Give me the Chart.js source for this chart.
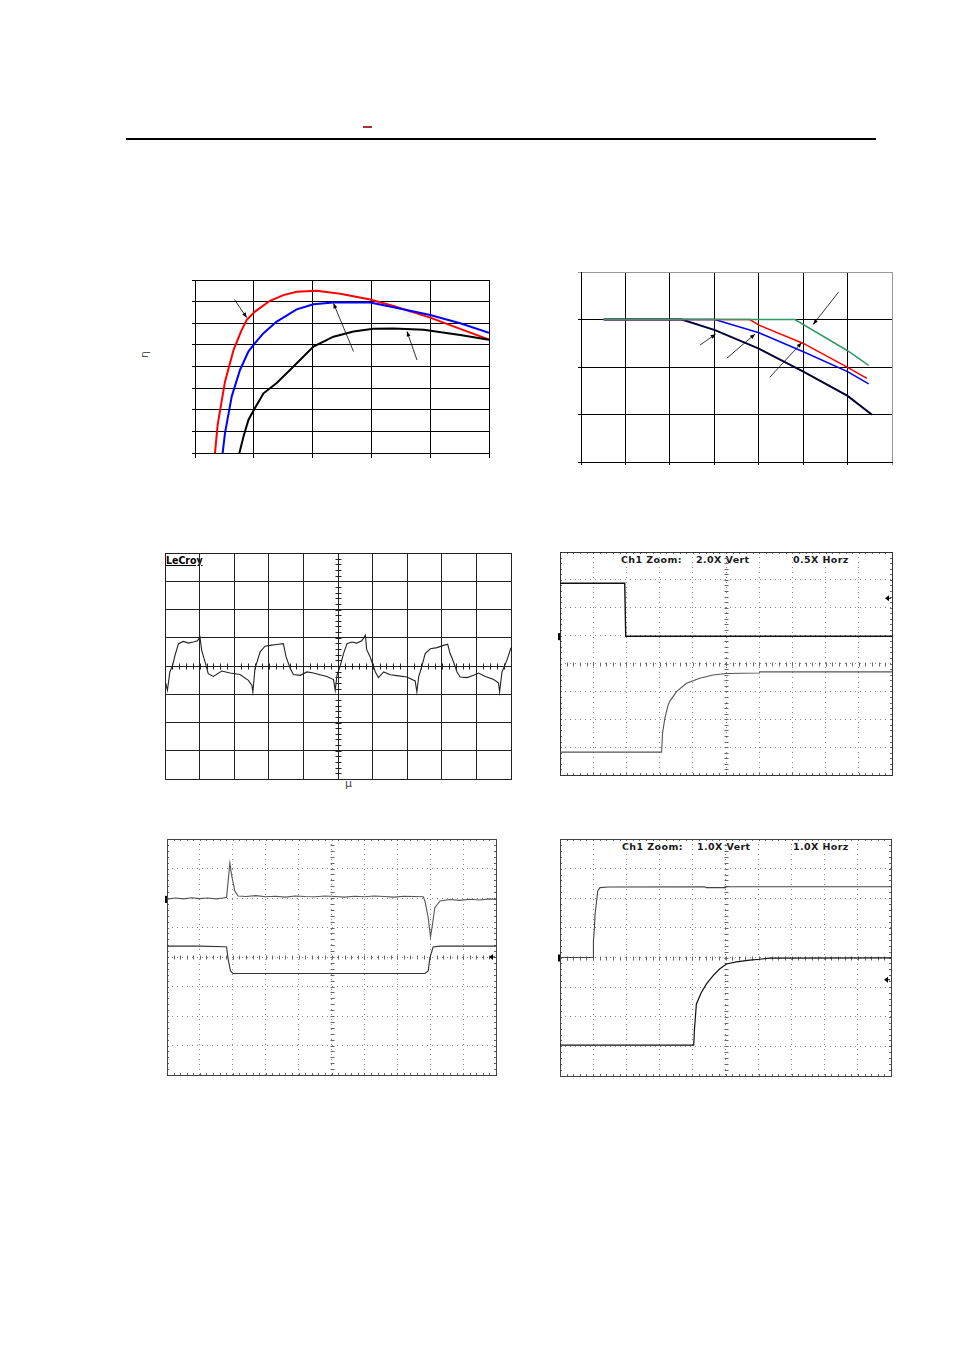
<!DOCTYPE html>
<html>
<head>
<meta charset="utf-8">
<script src="https://cdn.jsdelivr.net/npm/chart.js@4.4.1/dist/chart.umd.min.js"></script>
<style>
  body { margin: 0; background: #fff; }
  #page { position: relative; width: 954px; height: 1350px; background: #fff; overflow: hidden; font-family: "DejaVu Sans", sans-serif; }
  canvas { position: absolute; }
  .txt { position: absolute; white-space: nowrap; color: #222; }
  .scope { font-size: 9.5px; font-weight: bold; letter-spacing: 0.4px; color: #1a1a1a; }
</style>
</head>
<body>
<div id="page">
  <div style="position:absolute;left:126px;top:138px;width:750px;height:2px;background:#000"></div>
  <div style="position:absolute;left:363px;top:126px;width:9px;height:2px;background:#b03030"></div>

  <div class="txt" style="left:141px;top:348px;font-size:11px;color:#555;transform:rotate(-90deg)">η</div>
  <div class="txt" style="left:345px;top:777px;font-size:11px;color:#444">μ</div>
  <div class="txt" style="left:166px;top:554px;font-size:10.5px;font-weight:bold;text-decoration:underline;font-family:'Liberation Sans Narrow','DejaVu Sans Condensed',sans-serif;color:#000">LeCroy</div>

  <div class="txt scope" style="left:621px;top:554px">Ch1 Zoom:</div>
  <div class="txt scope" style="left:696px;top:554px">2.0X Vert</div>
  <div class="txt scope" style="left:793px;top:554px">0.5X Horz</div>

  <div class="txt scope" style="left:622px;top:841px">Ch1 Zoom:</div>
  <div class="txt scope" style="left:697px;top:841px">1.0X Vert</div>
  <div class="txt scope" style="left:793px;top:841px">1.0X Horz</div>

  <canvas id="c1"></canvas>
  <canvas id="c2"></canvas>
  <canvas id="c3"></canvas>
  <canvas id="c4"></canvas>
  <canvas id="c5"></canvas>
  <canvas id="c6"></canvas>
</div>
<script>
// ---- chart 1: efficiency curves (x: 0..1000, y: 50..90)
var redX = [68, 77, 102, 131, 157, 176, 204, 255, 301, 346, 414, 494, 596, 675, 800, 902, 1000]
var redY = [50, 56.5, 66.5, 73.8, 78.2, 80.8, 82.7, 85.2, 86.5, 87.3, 87.5, 86.8, 85.5, 84.0, 81.3, 78.7, 76.2]
var blueX = [94, 102, 125, 153, 182, 204, 233, 278, 346, 403, 471, 596, 675, 800, 902, 1000]
var blueY = [50, 54.6, 63.1, 69.2, 73.5, 75.4, 77.7, 80.4, 83.2, 84.4, 84.8, 84.8, 83.7, 81.9, 80, 77.8]
var blackX = [151, 165, 182, 204, 233, 278, 323, 403, 471, 539, 607, 675, 778, 902, 1000]
var blackY = [50, 53.8, 57.7, 60.4, 63.8, 66.2, 69.2, 74.6, 76.9, 78.1, 78.7, 78.8, 78.5, 77.3, 76.2]
var c1ArrowX = [[134, 176], [539, 471], [755, 721]]
var c1ArrowY = [[85.5, 81.3], [73.5, 84.6], [71.5, 78.1]]

// ---- chart 2: derating (x: -40..100, y: 0..2)
var dBlackX = [-29.8, 5.4, 20.3, 39.8, 60.1, 80.0, 91.0]
var dBlackY = [1.5, 1.5, 1.388, 1.196, 0.951, 0.696, 0.497]
var dBlueX = [-29.8, 20.2, 40.1, 60.1, 80.0, 89.5]
var dBlueY = [1.5, 1.5, 1.36, 1.161, 0.951, 0.822]
var dRedX = [-29.8, 36.0, 40.1, 60.1, 80.0, 88.7]
var dRedY = [1.5, 1.5, 1.44, 1.248, 0.997, 0.881]
var dGreenX = [-29.8, 56.3, 80.0, 89.5]
var dGreenY = [1.5, 1.5, 1.171, 1.017]
var c2ArrowX = [[13.6, 20.6], [25.6, 38.3], [45.0, 59.3], [76.0, 64.5]]
var c2ArrowY = [[1.231, 1.346], [1.091, 1.346], [0.892, 1.255], [1.79, 1.448]]

// ---- chart 3: ripple (divisions, x 0..10, y -4..4)
var ripX = [0, 0.07, 0.14, 0.22, 0.29, 0.39, 0.53, 0.68, 0.82, 0.94, 1.01, 1.06, 1.16, 1.25, 1.40, 1.64, 1.88, 2.17, 2.41, 2.51,
  2.54, 2.60, 2.75, 2.89, 3.04, 3.23, 3.42, 3.50, 3.62, 3.71, 3.91, 4.10, 4.29, 4.48, 4.68, 4.87, 4.92, 4.97, 5.06, 5.16,
  5.26, 5.40, 5.54, 5.69, 5.79, 5.83, 5.93, 6.08, 6.17, 6.32, 6.51, 6.70, 6.99, 7.23, 7.28, 7.33, 7.43, 7.52, 7.67, 7.86,
  8.05, 8.17, 8.24, 8.34, 8.44, 8.53, 8.73, 8.92, 9.06, 9.26, 9.50, 9.64, 9.67, 9.74, 9.88, 10.0]
var ripY = [-0.51, -0.86, -0.21, 0.02, 0.38, 0.79, 0.87, 0.81, 0.85, 0.89, 1.03, 0.55, 0.14, -0.27, -0.37, -0.18, -0.25, -0.30, -0.51, -0.68,
  -0.92, -0.09, 0.50, 0.70, 0.73, 0.76, 0.79, 0.32, -0.09, -0.30, -0.33, -0.21, -0.25, -0.31, -0.37, -0.48, -0.86, -0.33, -0.01, 0.44,
  0.79, 0.85, 0.81, 0.89, 1.09, 0.58, 0.32, -0.21, -0.41, -0.21, -0.31, -0.34, -0.39, -0.53, -0.92, -0.39, 0.02, 0.44, 0.61, 0.65,
  0.73, 0.77, 0.44, 0.14, -0.21, -0.39, -0.41, -0.33, -0.25, -0.37, -0.48, -0.60, -0.92, -0.21, 0.20, 0.65]

// ---- chart 4: turn-off
var t4aX = [0, 1.95, 1.98, 10]
var t4aY = [2.88, 2.88, 0.98, 0.98]
var t4bX = [0, 3.06, 3.09, 3.16, 3.26, 3.31, 3.51, 3.81, 4.21, 4.61, 5.01, 6.0, 6.01, 10]
var t4bY = [-3.18, -3.18, -2.49, -1.95, -1.48, -1.35, -1.01, -0.71, -0.53, -0.41, -0.36, -0.34, -0.30, -0.30]
var mark4 = { left: 0.98, right: 2.34 }

// ---- chart 5: load transient
var t5aX = [0, 0.25, 0.5, 0.75, 1.0, 1.25, 1.5, 1.7, 1.81, 1.86, 1.91, 1.96, 2.06, 2.16, 2.4, 2.7, 3.0, 3.3, 3.6, 3.9, 4.2, 4.5,
  4.8, 5.1, 5.4, 5.7, 6.0, 6.3, 6.6, 6.9, 7.2, 7.5, 7.79, 7.84, 7.94, 8.01, 8.07, 8.14, 8.3, 8.6, 8.9, 9.2, 9.5, 9.8, 10]
var t5aY = [1.96, 2.0, 1.97, 2.01, 1.98, 2.0, 1.97, 2.0, 2.02, 2.58, 3.18, 2.80, 2.24, 2.07, 2.05, 2.08, 2.04, 2.06, 2.03, 2.07, 2.05, 2.04,
  2.07, 2.05, 2.03, 2.06, 2.04, 2.07, 2.05, 2.03, 2.06, 2.05, 2.04, 1.90, 1.33, 0.68, 1.11, 1.67, 1.90, 1.95, 1.92, 1.96, 1.93, 1.97, 1.95]
var t5bX = [0, 1.0, 1.75, 1.81, 1.86, 1.93, 2.01, 2.2, 5.0, 7.84, 7.94, 7.99, 8.09, 8.3, 10]
var t5bY = [0.37, 0.37, 0.35, 0.34, -0.08, -0.47, -0.56, -0.56, -0.56, -0.56, -0.47, -0.02, 0.34, 0.37, 0.37]
var mark5 = { left: 1.97, right: 0 }

// ---- chart 6: turn-on
var t6aX = [0, 1.0, 1.01, 1.04, 1.06, 1.14, 1.21, 1.46, 4.37, 4.42, 5.0, 5.01, 10]
var t6aY = [0, 0, 0.56, 1.0, 1.46, 2.25, 2.36, 2.38, 2.39, 2.36, 2.36, 2.39, 2.39]
var t6bX = [0, 4.04, 4.06, 4.12, 4.27, 4.42, 4.62, 4.82, 5.03, 5.33, 5.73, 6.03, 6.33, 10]
var t6bY = [-2.96, -2.96, -2.47, -1.57, -1.18, -0.90, -0.62, -0.39, -0.22, -0.15, -0.09, -0.06, -0.02, -0.01]
var mark6 = { left: 0, right: -0.75 }

function pts(xs, ys) {
    return xs.map(function(x, i) { return { x: x, y: ys[i] } })
}

function line(xs, ys, color, width) {
    return { data: pts(xs, ys), borderColor: color, borderWidth: width, pointRadius: 0, tension: 0, fill: false }
}

// size/position the canvas so the plot area lands on the box
function place(id, box, yTick, xTick, pad) {
    var el = document.getElementById(id)
    el.style.left = (box[0] - yTick - pad) + 'px'
    el.style.top = (box[1] - pad) + 'px'
    el.width = box[2] - box[0] + yTick + 2 * pad
    el.height = box[3] - box[1] + xTick + 2 * pad
    return el.getContext('2d')
}

var arrowHeads = {
    id: 'arrowHeads',
    afterDatasetsDraw: function(chart) {
        var ctx = chart.ctx
        chart.data.datasets.forEach(function(ds, i) {
            if (!ds.arrow) return
            var p = chart.getDatasetMeta(i).data
            var a = Math.atan2(p[1].y - p[0].y, p[1].x - p[0].x)
            ctx.save()
            ctx.fillStyle = '#000'
            ctx.translate(p[1].x, p[1].y)
            ctx.rotate(a)
            ctx.beginPath()
            ctx.moveTo(0, 0)
            ctx.lineTo(-5, -2)
            ctx.lineTo(-5, 2)
            ctx.closePath()
            ctx.fill()
            ctx.restore()
        })
    }
}

var scopeDecor = {
    id: 'scopeDecor',
    beforeDatasetsDraw: function(chart, args, o) {
        if (!o.on) return
        var ctx = chart.ctx, a = chart.chartArea, x = chart.scales.x, y = chart.scales.y
        var cx = Math.round(x.getPixelForValue(5)) + 0.5
        var cy = Math.round(y.getPixelForValue(0)) + 0.5
        ctx.save()
        ctx.strokeStyle = o.tickColor
        ctx.lineWidth = 1
        ctx.beginPath()
        for (var i = 0; i <= 50; i++) {
            var px = Math.round(x.getPixelForValue(i / 5)) + 0.5
            ctx.moveTo(px, cy - o.tick); ctx.lineTo(px, cy + o.tick)
            if (o.edge) {
                ctx.moveTo(px, a.top); ctx.lineTo(px, a.top + o.edge)
                ctx.moveTo(px, a.bottom); ctx.lineTo(px, a.bottom - o.edge)
            }
        }
        for (var j = -20; j <= 20; j++) {
            var py = Math.round(y.getPixelForValue(j / 5)) + 0.5
            ctx.moveTo(cx - o.tick, py); ctx.lineTo(cx + o.tick, py)
            if (o.edge) {
                ctx.moveTo(a.left, py); ctx.lineTo(a.left + o.edge, py)
                ctx.moveTo(a.right, py); ctx.lineTo(a.right - o.edge, py)
            }
        }
        ctx.stroke()
        if (o.frame) {
            ctx.strokeStyle = o.frame
            ctx.strokeRect(Math.round(a.left) + 0.5, Math.round(a.top) + 0.5,
                Math.round(a.right - a.left), Math.round(a.bottom - a.top))
        }
        if (o.marks) {
            ctx.fillStyle = '#000'
            var ly = y.getPixelForValue(o.marks.left)
            ctx.fillRect(a.left - 2, ly - 3, 2, 7)
            var ry = y.getPixelForValue(o.marks.right)
            ctx.beginPath()
            ctx.moveTo(a.right - 7, ry)
            ctx.lineTo(a.right - 3, ry - 3)
            ctx.lineTo(a.right - 3, ry + 3)
            ctx.closePath()
            ctx.fill()
            ctx.fillRect(a.right - 4, ry - 0.5, 3, 1)
        }
        ctx.restore()
    }
}

var base = {
    responsive: false,
    animation: false,
    events: [],
    plugins: { legend: { display: false }, tooltip: { enabled: false } }
}

function opts(extra, scales, decor) {
    var o = Object.assign({}, base, extra)
    o.scales = scales
    o.plugins = Object.assign({}, base.plugins, { scopeDecor: decor || { on: false } })
    return o
}

function axis(min, max, step, grid, border) {
    return { type: 'linear', min: min, max: max, ticks: { display: false, stepSize: step }, grid: grid, border: border }
}

// chart 1
var ds1 = [line(blackX, blackY, '#000', 2), line(blueX, blueY, '#0000ff', 2), line(redX, redY, '#ff0000', 2)]
c1ArrowX.forEach(function(ax, i) {
    var d = line(ax, c1ArrowY[i], '#000', 0.8); d.arrow = true; ds1.push(d)
})
new Chart(place('c1', [195, 280, 489, 453], 3, 5, 2), {
    type: 'line',
    data: { datasets: ds1 },
    options: opts({ layout: { padding: 2 } }, {
        x: axis(0, 1000, 200, { color: '#000', lineWidth: 1, tickLength: 5 }, { color: '#000', width: 1 }),
        y: axis(50, 90, 5, { color: '#000', lineWidth: 1, tickLength: 3 }, { color: '#000', width: 1 })
    }),
    plugins: [arrowHeads]
})

// chart 2
var ds2 = [line(dGreenX, dGreenY, '#339966', 1.5), line(dRedX, dRedY, '#ff0000', 1.5),
    line(dBlueX, dBlueY, '#0000ff', 1.5), line(dBlackX, dBlackY, '#000033', 2)]
c2ArrowX.forEach(function(ax, i) {
    var d = line(ax, c2ArrowY[i], '#000', 0.8); d.arrow = true; ds2.push(d)
})
new Chart(place('c2', [581, 272, 892, 462], 3, 3, 2), {
    type: 'line',
    data: { datasets: ds2 },
    options: opts({ layout: { padding: 2 } }, {
        x: axis(-40, 100, 20, { color: function(c) { return c.tick && c.tick.value === 100 ? '#999' : '#000' }, lineWidth: 1, tickLength: 3 }, { color: '#000', width: 1 }),
        y: axis(0, 2, 0.5, { color: function(c) { return c.tick && c.tick.value === 2 ? '#999' : '#000' }, lineWidth: 1, tickLength: 3 }, { color: '#000', width: 1 })
    }),
    plugins: [arrowHeads]
})

// scope grids
function scopeGrid(dotted) {
    if (!dotted) {
        return {
            x: axis(0, 10, 1, { color: '#222', lineWidth: 1, drawTicks: false }, { color: '#222', width: 1 }),
            y: axis(-4, 4, 1, { color: '#222', lineWidth: 1, drawTicks: false }, { color: '#222', width: 1 })
        }
    }
    function col(min, max) {
        return function(c) {
            if (!c.tick) return '#888'
            return (c.tick.value === min || c.tick.value === max) ? 'rgba(0,0,0,0)' : '#888'
        }
    }
    return {
        x: axis(0, 10, 1, { color: col(0, 10), lineWidth: 1, drawTicks: false }, { display: false, dash: [1, 4] }),
        y: axis(-4, 4, 1, { color: col(-4, 4), lineWidth: 1, drawTicks: false }, { display: false, dash: [1, 4] })
    }
}

// chart 3
new Chart(place('c3', [165, 553, 511, 779], 0, 0, 3), {
    type: 'line',
    data: { datasets: [line(ripX, ripY, '#222', 1.1)] },
    options: opts({ layout: { padding: 3 } }, scopeGrid(false), { on: true, tick: 3, edge: 0, tickColor: '#222' }),
    plugins: [scopeDecor]
})

// chart 4
new Chart(place('c4', [560, 552, 892, 775], 0, 0, 3), {
    type: 'line',
    data: { datasets: [line(t4bX, t4bY, '#555', 1.1), line(t4aX, t4aY, '#111', 1.4)] },
    options: opts({ layout: { padding: 3 } }, scopeGrid(true), { on: true, tick: 2, edge: 2, tickColor: '#666', frame: '#333', marks: mark4 }),
    plugins: [scopeDecor]
})

// chart 5
new Chart(place('c5', [167, 839, 496, 1075], 0, 0, 3), {
    type: 'line',
    data: { datasets: [line(t5aX, t5aY, '#555', 1.1), line(t5bX, t5bY, '#333', 1.1)] },
    options: opts({ layout: { padding: 3 } }, scopeGrid(true), { on: true, tick: 2, edge: 2, tickColor: '#666', frame: '#444', marks: mark5 }),
    plugins: [scopeDecor]
})

// chart 6
new Chart(place('c6', [560, 839, 891, 1076], 0, 0, 3), {
    type: 'line',
    data: { datasets: [line(t6aX, t6aY, '#444', 1.1), line(t6bX, t6bY, '#111', 1.2)] },
    options: opts({ layout: { padding: 3 } }, scopeGrid(true), { on: true, tick: 2, edge: 2, tickColor: '#666', frame: '#444', marks: mark6 }),
    plugins: [scopeDecor]
})
</script>
</body>
</html>
